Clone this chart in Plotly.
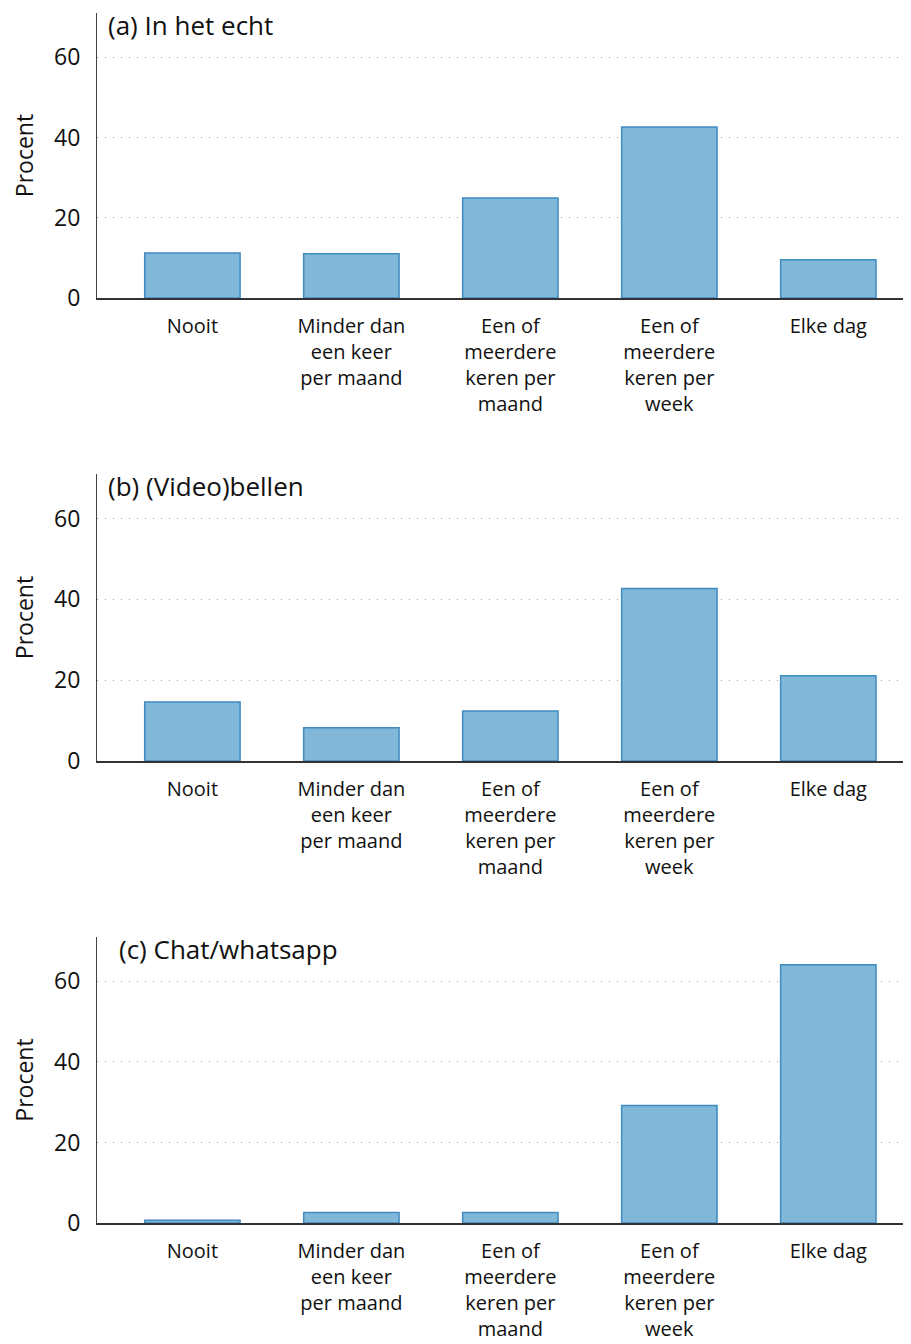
import plotly.graph_objects as go
from plotly.subplots import make_subplots

categories = ["Nooit", "Minder dan<br>een keer<br>per maand", "Een of<br>meerdere<br>keren per<br>maand",
              "Een of<br>meerdere<br>keren per<br>week", "Elke dag"]
panel_titles = ["(a) In het echt", "(b) (Video)bellen", "(c) Chat/whatsapp"]
in_het_echt = [11.2, 11.0, 24.9, 42.6, 9.5]
videobellen = [14.6, 8.2, 12.4, 42.7, 21.1]
chat_whatsapp = [0.7, 2.6, 2.6, 29.2, 64.1]
series = [in_het_echt, videobellen, chat_whatsapp]
y_ticks = [0, 20, 40, 60]

# page body adds an 8px offset; size the figure so it fills the 911x1344 window
OFF = 8
W, H = 911 - OFF, 1344 - OFF
LEFT = 97 - OFF
FONT = "Open Sans"
fig = make_subplots(rows=3, cols=1)

# window-pixel positions of each panel (top, bottom) and title x
panels_px = [(13, 298), (474, 761), (937, 1223)]
title_x_px = [108, 108, 119]

for i, vals in enumerate(series):
    r = i + 1
    fig.add_trace(go.Bar(x=categories, y=vals, width=0.6,
                         marker=dict(color="#81b7d9", line=dict(color="#3f8bc2", width=1.5)),
                         showlegend=False), row=r, col=1)
    top, bot = panels_px[i]
    top -= OFF
    bot -= OFF
    dom = [(H - bot) / H, (H - top) / H]
    xa = "xaxis" if r == 1 else f"xaxis{r}"
    ya = "yaxis" if r == 1 else f"yaxis{r}"
    fig.layout[ya].update(domain=dom, range=[0, 71], tickvals=y_ticks, showgrid=True,
                          gridcolor="#9a9a9a", griddash="1px,7px", gridwidth=1.3,
                          showline=True, linecolor="#444444", linewidth=1, zeroline=False,
                          ticks="", ticklabelstandoff=11, automargin=False,
                          tickfont=dict(family=FONT, size=23, color="#111111"),
                          title=dict(text="Procent", font=dict(family=FONT, size=23, color="#111111"),
                                     standoff=25))
    fig.layout[xa].update(domain=[0, 1], range=[-0.6, 4.52], showline=True, linecolor="#333333",
                          linewidth=1.5, ticks="", showgrid=False, ticklabelstandoff=9,
                          automargin=False,
                          tickfont=dict(family=FONT, size=20, color="#111111"))
    fig.add_annotation(text=panel_titles[i], xref="paper", yref="paper",
                       x=(title_x_px[i] - 97 - 2) / (W - LEFT), y=(H - top + 8) / H,
                       xanchor="left", yanchor="top",
                       showarrow=False, font=dict(family=FONT, size=26, color="#111111"))

fig.update_layout(width=W, height=H, margin=dict(l=LEFT, r=0, t=0, b=0, autoexpand=False),
                  plot_bgcolor="white", paper_bgcolor="white", bargap=0.4)
fig.write_html("out.html")
